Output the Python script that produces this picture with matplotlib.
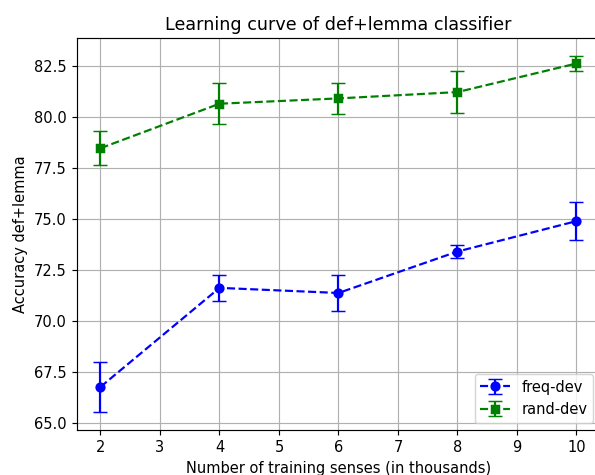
import matplotlib
matplotlib.use("Agg")
import matplotlib.pyplot as plt

x_senses = [2, 4, 6, 8, 10]
freq_dev = [66.78, 71.63, 71.38, 73.41, 74.90]
freq_err = [1.24, 0.64, 0.88, 0.32, 0.93]
rand_dev = [78.47, 80.65, 80.91, 81.22, 82.62]
rand_err = [0.84, 0.99, 0.77, 1.03, 0.36]

DPI = 105
fig = plt.figure(figsize=(595 / DPI, 475 / DPI), dpi=DPI)
ax = fig.add_axes([0.1289, 0.0947, 0.880, 0.8246])

ax.errorbar(x_senses, freq_dev, yerr=freq_err, fmt='o--', color='blue',
            capsize=5, label='freq-dev')
ax.errorbar(x_senses, rand_dev, yerr=rand_err, fmt='s--', color='green',
            capsize=5, label='rand-dev')

ax.set_title('Learning curve of def+lemma classifier')
ax.set_xlabel('Number of training senses (in thousands)')
ax.set_ylabel('Accuracy def+lemma')
ax.grid(True)
ax.legend(loc='lower right')

fig.savefig('out.png', dpi=DPI)
